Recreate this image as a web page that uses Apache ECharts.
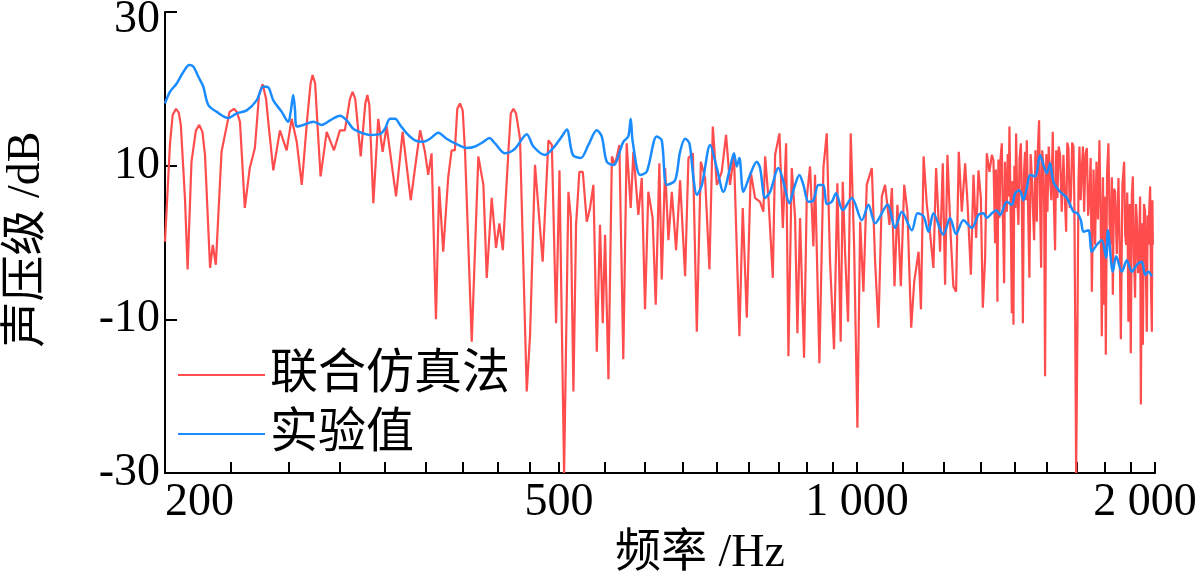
<!DOCTYPE html>
<html>
<head>
<meta charset="utf-8">
<script src="https://cdn.jsdelivr.net/npm/echarts@6/dist/echarts.min.js"></script>
<style>
  html, body { margin: 0; padding: 0; background: #fff; }
  #chart { width: 1200px; height: 582px; }
</style>
</head>
<body>
<div id="chart"></div>
<script>
// 联合仿真法 (simulation) - frequency in Hz, level in dB
const simFreq = [
  200, 202.3, 203.6, 205.2, 206.5, 207.5, 209.5, 210.8, 212.7, 214.9, 216.6, 218.2, 219.5, 222.1, 223.5, 225.1,
  228.1, 232.4, 234.8, 236.4, 238.1, 240.8, 243.6, 246.5, 248.9, 251.0, 253.0, 254.3, 257.3, 261.3, 265.4, 268.5,
  271.7, 274.9, 278.4, 280.6, 281.9, 283.6, 284.9, 287.2, 291.3, 296.3, 300.4, 303.9, 307.5, 309.4, 311.3, 315.3,
  318.7, 320.2, 321.7, 324.7, 328.4, 331.8, 334.9, 342.3, 347.6, 354.2, 362.0, 366.1, 368.9, 371.8, 375.6, 378.4,
  382.0, 386.4, 389.5, 392.5, 394.7, 397.2, 399.7, 401.9, 408.2, 414.5, 419.4, 422.7, 427.6, 431.9, 435.3, 438.8,
  444.5, 447.0, 449.7, 452.5, 456.7, 463.9, 467.5, 472.9, 481.4, 487.9, 491.8, 496.7, 500.6, 506.0, 511.1, 514.0,
  517.1, 520.3, 524.3, 528.5, 533.4, 537.5, 541.7, 546.0, 550.1, 553.6, 556.6, 561.0, 565.5, 569.6, 575.4, 580.7,
  585.3, 590.8, 594.5, 601.4, 606.2, 610.8, 615.5, 621.7, 626.2, 631.5, 635.0, 640.0, 645.0, 650.1, 656.6, 662.7,
  670.5, 675.7, 682.7, 689.0, 695.5, 702.4, 709.5, 715.1, 721.8, 730.1, 737.5, 744.3, 751.2, 760.7, 766.7, 773.9,
  781.1, 788.9, 798.2, 804.4, 807.6, 813.9, 822.2, 826.6, 835.0, 841.6, 848.0, 852.6, 859.3, 865.9, 870.6, 876.0,
  884.2, 889.7, 896.6, 903.6, 907.1, 916.3, 924.9, 932.1, 939.3, 948.0, 955.4, 962.8, 967.4, 972.6, 979.5, 985.6,
  993.3, 1001.0, 1007.4, 1015.1, 1023.0, 1035.1, 1043.1, 1051.2, 1059.5, 1067.6, 1078.5, 1084.6, 1091.2, 1098.6, 1107.4, 1116.1,
  1124.5, 1134.4, 1142.4, 1154.0, 1160.5, 1167.6, 1176.4, 1185.4, 1194.6, 1202.0, 1213.3, 1220.9, 1227.4, 1234.1, 1243.8, 1251.3,
  1259.2, 1267.2, 1276.1, 1286.0, 1293.0, 1303.3, 1311.3, 1319.3, 1326.5, 1333.9, 1340.0, 1347.2, 1352.5, 1360.9, 1368.5, 1373.6,
  1378.9, 1381.5, 1384.0, 1386.3, 1389.5, 1392.8, 1396.5, 1400.5, 1404.0, 1408.1, 1411.0, 1414.0, 1416.9, 1420.0, 1423.0, 1425.6,
  1429.5, 1433.6, 1436.0, 1439.0, 1442.0, 1445.0, 1447.9, 1451.5, 1455.8, 1459.5, 1464.0, 1467.5, 1470.9, 1474.5, 1478.4, 1481.5,
  1484.3, 1489.0, 1493.4, 1497.5, 1501.8, 1505.5, 1509.9, 1514.5, 1519.3, 1523.5, 1527.4, 1531.0, 1534.6, 1538.5, 1542.8, 1545.5,
  1548.8, 1553.0, 1557.3, 1562.0, 1566.9, 1571.5, 1576.7, 1581.0, 1585.2, 1589.5, 1593.8, 1598.5, 1603.8, 1610.0, 1616.3, 1621.5,
  1626.6, 1631.0, 1635.4, 1640.0, 1644.6, 1649.5, 1654.6, 1658.0, 1661.0, 1664.9, 1670.0, 1674.0, 1677.7, 1682.5, 1687.1, 1691.5,
  1696.1, 1701.5, 1706.8, 1712.0, 1717.1, 1722.0, 1726.8, 1733.5, 1740.0, 1745.5, 1751.5, 1757.5, 1762.5, 1767.3, 1772.0, 1776.8,
  1780.5, 1783.8, 1789.0, 1794.7, 1799.5, 1804.7, 1809.0, 1813.2, 1818.0, 1822.8, 1830.0, 1837.0, 1842.0, 1847.3, 1854.0, 1861.5,
  1866.0, 1870.0, 1875.0, 1880.1, 1885.5, 1890.6, 1895.0, 1899.5, 1904.5, 1909.5, 1913.5, 1917.1, 1923.0, 1929.0, 1932.0, 1935.3,
  1940.0, 1944.4, 1949.5, 1954.4, 1958.0, 1962.3, 1966.0, 1969.8, 1973.5, 1977.6, 1981.5, 1985.4, 1988.0, 1990.1
];
const simLevel = [
  0.1, 12.7, 16.6, 17.4, 16.9, 15.3, 5.8, -3.5, 10.5, 14.6, 15.3, 14.4, 11.4, -3.3, -0.3, -2.9,
  11.8, 17.0, 17.4, 17.0, 15.7, 4.5, 9.7, 12.3, 19.2, 20.6, 18.7, 15.7, 9.4, 14.6, 12.0, 16.1,
  13.1, 7.5, 16.1, 20.7, 21.8, 20.7, 16.1, 8.6, 14.4, 12.0, 14.6, 14.6, 18.7, 19.6, 18.7, 11.2,
  18.1, 19.2, 17.9, 5.1, 16.1, 11.8, 15.1, 6.0, 14.4, 5.5, 14.6, 11.8, 8.8, 11.6, -10.0, 7.3,
  -1.2, 8.4, 12.0, 12.0, 17.4, 18.1, 17.2, 11.8, -12.9, 11.2, 7.5, -4.6, 5.8, -0.7, 2.5, -1.0,
  11.8, 16.8, 17.4, 16.8, 13.5, -19.4, -12.0, 10.1, -2.5, 13.3, 12.7, -10.5, 9.4, -30, 6.6, 3.2,
  -19.4, 2.3, 9.2, 9.2, 2.7, 4.5, 7.5, -14.2, 2.3, -10.5, 1.0, -17.8, 11.2, 10.1, 12.7, -15.2,
  12.9, 4.5, 11.8, 3.6, 8.4, -8.7, 6.6, 3.2, -8.1, 10.3, -4.8, 9.7, 0.3, 6.6, -1.0, 8.1,
  -4.4, 11.0, 11.6, -11.6, 10.5, 8.4, -3.5, 15.1, 7.5, 9.2, 14.0, 7.5, 11.4, -12.2, 4.5, -9.8,
  9.2, 5.8, 5.3, 4.0, 11.2, 5.8, -4.6, 11.4, 14.2, 1.9, 12.9, -14.8, 9.7, 3.2, -11.8, 3.2,
  -15.0, 5.8, 9.9, -0.5, 8.8, -15.7, 9.7, 14.2, -2.5, -13.9, 7.7, -12.9, 7.9, -1.2, -10.3, 14.2,
  -0.3, -24.1, 2.7, -6.4, 7.5, 9.7, -2.5, -11.1, 6.0, 7.5, 2.3, 7.1, -5.7, 4.9, -5.7, 7.5,
  4.0, -11.1, -5.1, -1.2, -8.7, 11.2, 4.9, 1.2, -3.3, 9.7, -1.2, 10.3, -5.5, 11.4, 0.6, -5.7,
  -6.4, 11.8, 4.0, 10.3, 5.3, -4.2, 8.8, 0.6, 9.4, 5.8, -8.5, -2.0, 11.6, 9.2, 11.4, 10.7,
  -0.1, 9.5, 4.0, -7.7, 10.8, 3.2, 11.0, 12.9, 3.5, -5.3, 10.5, 5.0, 4.0, 11.5, 6.0, 15.1,
  4.5, -9.2, 8.0, -10.7, 10.0, 4.5, 14.2, 6.0, 2.3, 11.0, 12.9, 5.0, -10.5, 9.0, 11.8, 5.5,
  13.3, 4.0, -4.6, 11.5, 8.8, 4.5, 0.3, 12.0, 2.7, 12.5, 15.9, 5.0, -3.3, 12.0, 10.1, 5.0,
  -17.4, 11.5, 4.0, 12.5, 8.4, 5.5, 14.4, 5.0, -1.0, 12.0, 5.8, 12.5, 11.4, 4.0, 11.4, 6.0,
  1.4, 13.0, 12.3, 4.5, 5.8, 13.0, 12.5, 5.0, -9.4, -30, -10.7, 8.0, 12.5, 5.5, 9.7, 12.5,
  4.0, 11.5, 12.3, 3.5, 5.8, 11.0, -6.4, 9.5, -0.3, 10.5, 3.0, 13.3, 4.0, -12.2, 8.5, -8.1,
  6.0, -14.6, 9.0, 12.9, 2.5, -0.3, 8.5, -6.8, 7.0, 6.6, -1.5, 8.4, 0.0, -12.6, 7.5, 10.5,
  1.0, -0.3, 6.5, -10.3, 5.0, -14.4, 6.0, 8.6, -2.0, -7.2, 5.0, 3.2, -4.0, 1.9, 6.0, -21.1,
  2.5, -13.3, 5.0, 4.0, -3.5, -11.6, 3.5, -0.3, 4.5, 7.3, -6.0, -11.6, 5.5, -0.3
];

// 实验值 (measured)
const expFreq = [
  200, 202.3, 205.5, 208.7, 211.6, 213.6, 216.1, 218.6, 221.2, 225.6, 231.7, 236.3, 241.9, 247.5, 251.4, 254.3,
  257.3, 262.4, 266.4, 267.9, 269.5, 270.6, 271.7, 275.9, 282.4, 287.9, 293.6, 300.5, 305.2, 309.9, 317.2, 322.2,
  329.7, 333.6, 337.5, 341.5, 345.5, 350.9, 357.7, 364.7, 370.4, 377.6, 385.0, 394.1, 403.5, 411.4, 419.4, 425.3,
  430.9, 441.1, 451.4, 463.9, 471.1, 484.0, 493.4, 503.3, 509.2, 516.4, 526.1, 535.4, 546.0, 552.3, 558.8, 567.4,
  580.7, 587.5, 590.8, 593.6, 603.8, 613.2, 627.6, 635.0, 642.5, 655.1, 662.7, 670.5, 677.3, 683.6, 689.0, 697.2,
  710.7, 721.8, 732.9, 744.3, 751.2, 756.1, 760.7, 767.8, 779.8, 792.0, 798.2, 807.6, 817.1, 833.0, 842.8, 854.6,
  862.6, 874.6, 882.8, 893.2, 903.6, 914.2, 924.9, 932.1, 943.0, 952.4, 967.4, 988.0, 1011.4, 1027.0, 1043.1, 1073.5,
  1092.7, 1110.0, 1136.2, 1151.3, 1167.6, 1181.0, 1194.6, 1222.6, 1241.8, 1259.2, 1280.9, 1306.4, 1326.5, 1342.0, 1352.5, 1368.5,
  1382.1, 1395.0, 1416.9, 1433.6, 1444.5, 1459.2, 1472.5, 1484.3, 1495.8, 1513.2, 1531.0, 1542.8, 1555.1, 1566.9, 1579.0, 1603.8,
  1629.2, 1654.6, 1670.0, 1683.3, 1693.4, 1713.2, 1726.8, 1747.0, 1767.3, 1785.1, 1792.2, 1813.2, 1827.1, 1851.6, 1873.1, 1895.0,
  1917.1, 1939.8, 1954.4, 1969.8, 1985.4
];
const expLevel = [
  18.1, 19.6, 20.7, 22.2, 23.1, 22.9, 21.6, 20.3, 17.9, 17.0, 16.2, 16.8, 17.2, 18.5, 20.3, 20.2,
  18.5, 17.0, 15.7, 17.0, 19.2, 17.3, 15.1, 15.3, 15.7, 15.3, 15.9, 16.5, 15.9, 14.8, 14.2, 14.0,
  14.1, 14.8, 16.1, 16.1, 15.3, 14.2, 13.3, 13.1, 13.5, 14.3, 13.5, 12.8, 12.3, 12.5, 13.1, 13.6,
  12.9, 11.6, 12.2, 14.1, 12.5, 11.4, 12.3, 13.8, 14.7, 11.4, 11.0, 12.7, 14.6, 13.8, 10.5, 10.1,
  13.1, 13.8, 16.1, 13.1, 8.8, 9.2, 13.8, 13.3, 7.5, 8.1, 11.8, 13.5, 12.9, 8.4, 6.2, 7.5,
  12.7, 9.7, 6.6, 9.7, 11.6, 9.9, 11.0, 6.6, 8.8, 10.5, 9.7, 5.8, 6.6, 9.7, 7.9, 5.1,
  6.8, 8.8, 7.5, 5.3, 5.5, 7.5, 7.5, 5.0, 5.3, 6.4, 4.2, 5.8, 2.9, 4.9, 2.5, 4.9,
  1.9, 4.0, 1.6, 3.8, 3.4, 1.4, 3.8, 1.0, 3.2, 1.1, 2.9, 1.9, 3.6, 3.8, 3.2, 3.8,
  4.2, 3.6, 5.3, 4.9, 6.4, 6.8, 5.5, 7.1, 8.8, 8.6, 11.4, 10.1, 9.0, 10.3, 7.9, 6.6,
  5.8, 4.0, 3.8, 2.9, 1.4, 1.6, -1.2, -0.3, 0.3, -2.0, 1.6, -3.8, -1.8, -3.8, -2.3, -3.8,
  -2.9, -2.5, -4.2, -3.8, -4.4
];

const freqLabels = [200, 500, 1000, 2000];
const freqTicks = [
  200, 233.3, 266.7, 300, 333.3, 366.7, 400, 433.3, 466.7,
  500, 555.6, 611.1, 666.7, 722.2, 777.8, 833.3, 888.9, 944.4,
  1000, 1111.1, 1222.2, 1333.3, 1444.4, 1555.6, 1666.7, 1777.8, 1888.9, 2000
];
const levelTicks = [-30, -10, 10, 30];

const fontFamily = "'Liberation Serif', 'Noto Sans CJK SC', serif";

const chart = echarts.init(document.getElementById('chart'), null, { renderer: 'canvas' });

const option = {
  backgroundColor: '#ffffff',
  animation: false,
  textStyle: { fontFamily: fontFamily, color: '#000' },
  grid: { left: 165, right: 45, top: 12, bottom: 109, containLabel: false, outerBoundsMode: 'none' },
  legend: {
    orient: 'vertical',
    left: 173,
    top: 346,
    icon: 'rect',
    itemWidth: 87,
    itemHeight: 2,
    itemGap: 11,
    textStyle: { fontFamily: fontFamily, fontSize: 48, color: '#000', lineHeight: 48 },
    data: ['联合仿真法', '实验值']
  },
  xAxis: {
    type: 'log',
    logBase: 10,
    min: 200,
    max: 2000,
    name: '频率 /Hz',
    nameLocation: 'middle',
    nameGap: 50,
    nameTextStyle: { fontFamily: fontFamily, fontSize: 46, color: '#000', padding: [0, 0, 0, 80] },
    axisLine: { show: true, onZero: false, lineStyle: { color: '#000', width: 2 } },
    axisTick: {
      show: true, inside: true, length: 11,
      customValues: freqTicks,
      lineStyle: { color: '#000', width: 2 }
    },
    minorTick: { show: false },
    axisLabel: {
      customValues: freqLabels,
      fontSize: 46,
      color: '#000',
      margin: 7,
      fontFamily: fontFamily,
      alignMinLabel: 'left',
      formatter: function (v) {
        const n = Math.round(v);
        if (n === 2000) return '{last|2 000}';
        return n >= 1000 ? (n / 1000) + ' 000' : String(n);
      },
      rich: {
        last: { fontSize: 46, fontFamily: fontFamily, color: '#000', padding: [0, 20, 0, 0] }
      }
    },
    splitLine: { show: false }
  },
  yAxis: {
    type: 'value',
    min: -30,
    max: 30,
    interval: 20,
    name: '声压级 /dB',
    nameLocation: 'middle',
    nameRotate: 90,
    nameGap: 115,
    nameTextStyle: { fontFamily: fontFamily, fontSize: 46, color: '#000', padding: [0, 0, 0, 6] },
    axisLine: { show: true, lineStyle: { color: '#000', width: 2 } },
    axisTick: {
      show: true, inside: true, length: 12,
      customValues: levelTicks,
      lineStyle: { color: '#000', width: 2 }
    },
    axisLabel: {
      customValues: levelTicks,
      fontSize: 46, color: '#000', margin: 5, fontFamily: fontFamily,
      formatter: function (v) {
        return v === 30 ? '{top|30}' : String(v);
      },
      rich: {
        top: { fontSize: 46, fontFamily: fontFamily, color: '#000', padding: [16, 0, 0, 0] }
      }
    },
    splitLine: { show: false }
  },
  series: [
    {
      name: '联合仿真法',
      type: 'line',
      showSymbol: false,
      symbol: 'none',
      color: '#ff4d4d',
      lineStyle: { color: '#ff4d4d', width: 2.2 },
      data: simFreq.map((f, i) => [f, simLevel[i]]),
      z: 2
    },
    {
      name: '实验值',
      type: 'line',
      showSymbol: false,
      symbol: 'none',
      smooth: 0.3,
      color: '#1a8cff',
      lineStyle: { color: '#1a8cff', width: 2.5 },
      data: expFreq.map((f, i) => [f, expLevel[i]]),
      z: 3
    }
  ]
};

chart.setOption(option);
</script>
</body>
</html>
